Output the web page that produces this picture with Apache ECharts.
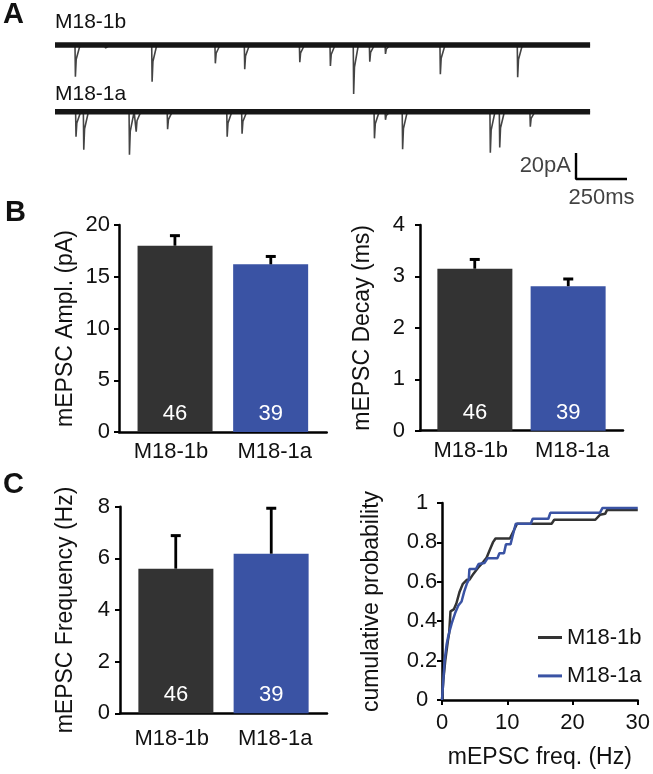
<!DOCTYPE html>
<html>
<head>
<meta charset="utf-8">
<script src="https://cdn.jsdelivr.net/npm/echarts@6/dist/echarts.min.js"></script>
<style>
  html, body { margin: 0; padding: 0; background: #fff; }
  #chart { width: 653px; height: 774px; }
</style>
</head>
<body>
<div id="chart"></div>
<script>
// ---------------- DATA ----------------
const traceNames = ['M18-1b', 'M18-1a'];
const traceDurationMs = 2623;
// [time (ms), amplitude (pA)] of each miniature event
const eventsTop = [[98,24.4],[245,2.3],[474,28.2],[784,14.1],[928,18.7],[1198,13.3],[1348,16.2],[1462,37.7],[1541,12.8],[1618,6.9],[1887,22.5],[2266,24.8]];
const eventsBottom = [[101,19.2],[139,29.2],[363,33.1],[396,15.4],[550,13.5],[842,19.2],[915,16.9],[1564,20.5],[1618,6.2],[1702,28.9],[2132,31.5],[2178,27.5],[2328,11.5]];
const scaleBarPa = 20;
const scaleBarMs = 250;

const categories = ['M18-1b', 'M18-1a'];
const nCells = [46, 39];
const amplMean = [18.0, 16.2];
const amplSem = [0.97, 0.76];
const decayMean = [3.15, 2.81];
const decaySem = [0.18, 0.14];
const freqMean = [5.6, 6.18];
const freqSem = [1.28, 1.76];

const amplTicks = [0, 20, 5];
const decayTicks = [0, 4, 1];
const freqTicks = [0, 8, 2];

const cdfFreqB = [0,0.2,0.5,0.9,1.1,1.3,1.8,2.2,2.7,3.2,3.8,4.2,4.8,5.5,6.3,6.8,7.3,7.8,8.2,10.4,11.0,11.5,16.8,17.2,23.5,24.2,25.0,25.3,30];
const cdfProbB = [0,0.10,0.20,0.30,0.34,0.45,0.46,0.49,0.55,0.59,0.61,0.61,0.64,0.67,0.70,0.72,0.76,0.80,0.82,0.82,0.86,0.895,0.895,0.915,0.915,0.94,0.945,0.965,0.965];
const cdfFreqA = [0,0.4,0.7,1.0,1.5,2.0,2.5,3.0,3.4,3.8,4.1,4.2,5.2,5.6,6.5,7.0,8.5,8.8,9.5,9.8,10.5,10.8,11.3,13.6,13.9,16.3,16.6,24.2,24.6,30];
const cdfProbA = [0,0.20,0.28,0.33,0.39,0.44,0.48,0.50,0.55,0.59,0.61,0.665,0.665,0.69,0.695,0.72,0.72,0.745,0.745,0.79,0.79,0.83,0.895,0.895,0.92,0.92,0.95,0.95,0.975,0.975];

// ---------------- STYLE ----------------
const FONT = '"Liberation Sans", Arial, Helvetica, sans-serif';
const TXT = '#111';
const DARK = '#333333';
const BLUE = '#3a53a4';
const AXW = 2.5;
const TICK_FS = 22;
const NAME_FS = 23;

// ---------------- helpers ----------------
function traceLine(events, base) {
  const pts = [[0, base]];
  events.forEach(([t, a]) => {
    pts.push([t, base], [t + 2, base - a], [t + 6, base - a * 0.45], [t + 25, base]);
  });
  pts.push([traceDurationMs, base]);
  return pts;
}
const baseOffsets = [0, -51.3];

function valueYAxis(gridIndex, ticks, name, nameGap, labelMargin) {
  return {
    type: 'value', gridIndex, min: ticks[0], max: ticks[1], interval: ticks[2],
    name, nameLocation: 'middle', nameGap,
    nameTextStyle: { fontSize: NAME_FS, color: TXT, fontFamily: FONT },
    axisLine: { show: true, lineStyle: { color: '#000', width: AXW } },
    axisTick: { show: true, inside: false, length: 5, lineStyle: { color: '#000', width: 2 } },
    axisLabel: { fontSize: TICK_FS, color: TXT, fontFamily: FONT, margin: labelMargin },
    splitLine: { show: false }
  };
}
function catXAxis(gridIndex, margin) {
  return {
    type: 'category', gridIndex, data: categories,
    axisLine: { show: true, onZero: false, lineStyle: { color: '#000', width: AXW } },
    axisTick: { show: false },
    axisLabel: { fontSize: TICK_FS, color: TXT, fontFamily: FONT, margin, interval: 0 },
    splitLine: { show: false }
  };
}
const SHIFT = 4;
function barSeries(idx, means, sems, tag) {
  const lbl = {
    show: true, position: 'insideBottom', distance: 7, color: '#fff',
    fontSize: TICK_FS, fontFamily: FONT,
    formatter: p => String(nCells[p.dataIndex])
  };
  return [
    { type: 'bar', name: tag + '-a', xAxisIndex: idx, yAxisIndex: idx, barWidth: 75, barGap: '-89%',
      data: ['-', means[1]], itemStyle: { color: BLUE }, label: lbl, silent: true },
    { type: 'bar', name: tag + '-b', xAxisIndex: idx, yAxisIndex: idx, barWidth: 75, barGap: '-89%',
      data: [means[0], '-'], itemStyle: { color: DARK }, label: lbl, silent: true },
    { type: 'custom', name: tag + '-err', xAxisIndex: idx, yAxisIndex: idx, silent: true, z: 5,
      data: means.map((m, i) => [i, m, sems[i]]),
      renderItem: function (params, api) {
        const c = api.value(0), m = api.value(1), s = api.value(2);
        const top = api.coord([c, m + s]);
        const bot = api.coord([c, m]);
        const x = top[0] + (c === 0 ? SHIFT : -SHIFT);
        return { type: 'group', children: [
          { type: 'line', shape: { x1: x, y1: bot[1], x2: x, y2: top[1] }, style: { stroke: '#000', lineWidth: 2.8 } },
          { type: 'line', shape: { x1: x - 5, y1: top[1], x2: x + 5, y2: top[1] }, style: { stroke: '#000', lineWidth: 3 } }
        ] };
      }
    }
  ];
}

// ---------------- OPTION ----------------
const option = {
  animation: false,
  backgroundColor: '#fff',
  textStyle: { fontFamily: FONT },
  grid: [
    { left: 55, top: 32, width: 2900 * 0.204, height: 156 },
    { left: 119, top: 225, width: 207.7, height: 207 },
    { left: 420, top: 225, width: 203, height: 205.7 },
    { left: 120, top: 506.7, width: 207, height: 206.6 },
    { left: 442, top: 503, width: 198, height: 197 }
  ],
  xAxis: [
    { type: 'value', gridIndex: 0, min: 0, max: 2900, show: false },
    catXAxis(1, 9),
    catXAxis(2, 9),
    catXAxis(3, 15),
    { type: 'value', gridIndex: 4, min: 0, max: 30, interval: 10,
      name: 'mEPSC freq. (Hz)', nameLocation: 'middle', nameGap: 46,
      nameTextStyle: { fontSize: NAME_FS, color: TXT, fontFamily: FONT },
      axisLine: { show: true, onZero: false, lineStyle: { color: '#000', width: AXW } },
      axisTick: { show: true, length: 5, lineStyle: { color: '#000', width: 2 } },
      axisLabel: { fontSize: TICK_FS, color: TXT, fontFamily: FONT, margin: 12 },
      splitLine: { show: false } }
  ],
  yAxis: [
    { type: 'value', gridIndex: 0, min: -110, max: 10, show: false },
    valueYAxis(1, amplTicks, 'mEPSC Ampl. (pA)', 42, 9),
    valueYAxis(2, decayTicks, 'mEPSC Decay (ms)', 46, 15),
    valueYAxis(3, freqTicks, 'mEPSC Frequency (Hz)', 43, 10),
    Object.assign(valueYAxis(4, [0, 1, 0.2], 'cumulative probability', 59, 20),
      { axisLabel: { fontSize: TICK_FS, color: TXT, fontFamily: FONT, margin: 20, align: 'center' } })
  ],
  legend: {
    data: ['M18-1b', 'M18-1a'], orient: 'vertical', left: 533, top: 621,
    icon: 'rect', itemWidth: 24, itemHeight: 3, itemGap: 15.4,
    textStyle: { fontSize: TICK_FS, color: TXT, fontFamily: FONT, lineHeight: 23 },
    selectedMode: false
  },
  graphic: [
    { type: 'text', left: 3, top: 0, style: { text: 'A', fontSize: 29, fontWeight: 'bold', fontFamily: FONT, fill: '#111' } },
    { type: 'text', left: 5, top: 198, style: { text: 'B', fontSize: 29, fontWeight: 'bold', fontFamily: FONT, fill: '#111' } },
    { type: 'text', left: 3, top: 470, style: { text: 'C', fontSize: 29, fontWeight: 'bold', fontFamily: FONT, fill: '#111' } },
    { type: 'text', left: 55, top: 12, style: { text: traceNames[0], fontSize: 21, fontFamily: FONT, fill: TXT } },
    { type: 'text', left: 55, top: 84, style: { text: traceNames[1], fontSize: 21, fontFamily: FONT, fill: TXT } }
  ],
  series: [
    // traces: noisy baseline band + event spikes
    ...[eventsTop, eventsBottom].flatMap((ev, i) => [
      { type: 'line', xAxisIndex: 0, yAxisIndex: 0, silent: true, showSymbol: false,
        data: [[0, baseOffsets[i]], [traceDurationMs, baseOffsets[i]]],
        lineStyle: { color: '#161616', width: 5.5 }, z: 3 },
      { type: 'line', xAxisIndex: 0, yAxisIndex: 0, silent: true, showSymbol: false,
        data: traceLine(ev, baseOffsets[i]),
        lineStyle: { color: '#444', width: 1.6 }, z: 2 }
    ]),
    // scale bar
    { type: 'line', xAxisIndex: 0, yAxisIndex: 0, silent: true, showSymbol: false,
      data: [[2554, -83.1], [2554, -83.1 - scaleBarPa], [2554 + scaleBarMs, -83.1 - scaleBarPa]],
      lineStyle: { color: '#000', width: 2.4 } },
    { type: 'scatter', xAxisIndex: 0, yAxisIndex: 0, silent: true, symbolSize: 0,
      data: [
        { value: [2554, -83.1 - scaleBarPa / 2], label: { show: true, position: 'left', distance: 5, formatter: scaleBarPa + 'pA' } },
        { value: [2554 + scaleBarMs / 2, -83.1 - scaleBarPa], label: { show: true, position: 'bottom', distance: 8, formatter: scaleBarMs + 'ms' } }
      ],
      label: { fontSize: TICK_FS, color: TXT, fontFamily: FONT } },
    ...barSeries(1, amplMean, amplSem, 'ampl'),
    ...barSeries(2, decayMean, decaySem, 'decay'),
    ...barSeries(3, freqMean, freqSem, 'freq'),
    { type: 'line', name: 'M18-1b', xAxisIndex: 4, yAxisIndex: 4, showSymbol: false, silent: true,
      data: cdfFreqB.map((f, i) => [f, cdfProbB[i]]),
      itemStyle: { color: DARK }, lineStyle: { color: DARK, width: 2.5 }, z: 3 },
    { type: 'line', name: 'M18-1a', xAxisIndex: 4, yAxisIndex: 4, showSymbol: false, silent: true,
      data: cdfFreqA.map((f, i) => [f, cdfProbA[i]]),
      itemStyle: { color: BLUE }, lineStyle: { color: BLUE, width: 2.5 }, z: 4 }
  ]
};

const chart = echarts.init(document.getElementById('chart'), null, { renderer: 'canvas' });
chart.setOption(option);
</script>
</body>
</html>
